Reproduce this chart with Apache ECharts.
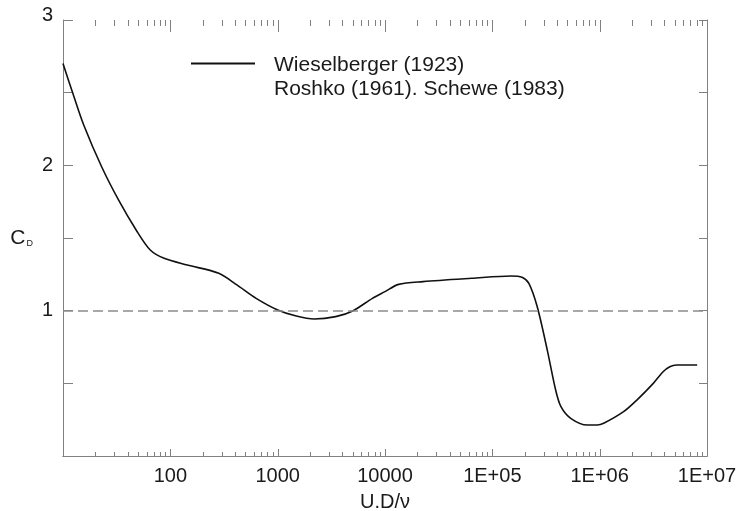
<!DOCTYPE html>
<html>
<head>
<meta charset="utf-8">
<script src="https://cdn.jsdelivr.net/npm/echarts@6/dist/echarts.min.js"></script>
<style>html,body{margin:0;padding:0;background:#fff;}#chart{width:741px;height:511px;}</style>
</head>
<body>
<div id="chart"></div>
<script>
// Reynolds number (U.D/nu) and drag coefficient C_D
const reynolds = [10, 12.5, 15.6, 22.9, 33, 48, 65, 87.5, 144, 283, 417, 630, 1000, 1490, 2190, 3470, 5000, 7630, 10000, 13400, 22600, 64300, 150000, 189000, 219000, 262000, 325000, 389000, 436000, 537000, 768000, 950000, 1090000, 1670000, 2220000, 3160000, 3900000, 4500000, 5200000, 8100000];
const cdValues = [2.70, 2.484, 2.278, 1.99, 1.76, 1.555, 1.417, 1.36, 1.314, 1.257, 1.177, 1.085, 1.005, 0.963, 0.943, 0.959, 0.998, 1.085, 1.131, 1.181, 1.20, 1.223, 1.239, 1.230, 1.188, 1.027, 0.729, 0.454, 0.339, 0.259, 0.213, 0.213, 0.225, 0.305, 0.385, 0.50, 0.58, 0.614, 0.626, 0.626];
const seriesName = 'Wieselberger (1923)';
const seriesName2 = 'Roshko (1961). Schewe (1983)';
const referenceCd = 1;
const xMin = 10, xMax = 1e7;
const yMin = 0, yMax = 3, yStep = 0.5;
const yLabels = [1, 2, 3];
const majorDecades = [10, 100, 1000, 10000, 100000, 1000000, 10000000];
const minorDecades = [10, 100, 1000, 10000, 100000, 1000000];
const minorMultipliers = [2, 3, 4, 5, 6, 7, 8, 9];

// tick marks: [value, isMajor]
const xTicks = [];
majorDecades.forEach(d => xTicks.push([d, 1]));
minorDecades.forEach(d => minorMultipliers.forEach(m => xTicks.push([d * m, 0])));

const axisColor = '#808080';
const textColor = '#1a1a1a';
const font = "'Liberation Sans', Arial, sans-serif";

const chart = echarts.init(document.getElementById('chart'), null, {renderer: 'canvas'});
const lineData = reynolds.map((r, i) => [r, cdValues[i]]);

function xLabel(v) {
  const e = Math.round(Math.log10(v));
  if (e < 2) return '';
  if (e >= 5) return '1E+0' + e;
  return String(Math.pow(10, e));
}

const option = {
  animation: false,
  backgroundColor: '#fff',
  textStyle: {fontFamily: font},
  grid: {left: 63, right: 34, top: 20, bottom: 55, outerBoundsMode: 'none', containLabel: false},
  legend: {
    data: [{name: seriesName, icon: 'rect'}],
    left: 186, top: 24,
    itemWidth: 64, itemHeight: 2,
    itemStyle: {color: '#111'},
    formatter: () => '{g| }\n{a|' + seriesName + '}\n{a|' + seriesName2 + '}',
    textStyle: {
      fontSize: 21, color: textColor, fontFamily: font, padding: [0, 0, 0, 14],
      rich: {
        g: {fontSize: 21, lineHeight: 28, fontFamily: font},
        a: {fontSize: 21, lineHeight: 24, color: textColor, fontFamily: font}
      }
    },
    selectedMode: false
  },
  xAxis: [{
    type: 'log', logBase: 10, min: xMin, max: xMax, position: 'bottom',
    name: 'U.D/\u03bd', nameLocation: 'middle', nameGap: 36,
    nameTextStyle: {fontSize: 20, color: textColor, fontFamily: font},
    axisLine: {show: true, lineStyle: {color: axisColor, width: 1}},
    axisTick: {show: false},
    axisLabel: {formatter: xLabel, fontSize: 20, color: textColor, margin: 10, fontFamily: font},
    splitLine: {show: false}
  }, {
    type: 'log', logBase: 10, min: xMin, max: xMax, position: 'top',
    axisLine: {show: true, lineStyle: {color: axisColor, width: 1}},
    axisTick: {show: false},
    axisLabel: {show: false},
    splitLine: {show: false}
  }],
  yAxis: [{
    type: 'value', min: yMin, max: yMax, interval: yStep, position: 'left',
    name: '{c|C}{d|D}', nameLocation: 'middle', nameRotate: 0, nameGap: 30,
    nameTextStyle: {rich: {
      c: {fontSize: 21, lineHeight: 21, color: textColor, fontFamily: font},
      d: {fontSize: 9, lineHeight: 21, verticalAlign: 'bottom', color: textColor, fontFamily: font, padding: [0, 0, 0, 1]}
    }},
    axisLine: {show: true, lineStyle: {color: axisColor, width: 1}},
    axisTick: {show: true, inside: true, length: 10, lineStyle: {color: axisColor}},
    axisLabel: {
      fontSize: 20, color: textColor, margin: 10, fontFamily: font,
      formatter: v => yLabels.indexOf(v) >= 0 ? (v === yMax ? '{t|' + v + '}' : String(v)) : '',
      rich: {t: {fontSize: 20, color: textColor, fontFamily: font, padding: [0, 0, 9, 0]}}
    },
    splitLine: {show: false}
  }, {
    type: 'value', min: yMin, max: yMax, interval: yStep, position: 'right',
    axisLine: {show: true, lineStyle: {color: axisColor, width: 1}},
    axisTick: {show: true, inside: true, length: 8, lineStyle: {color: axisColor}},
    axisLabel: {show: false},
    splitLine: {show: false}
  }],
  series: [{
    name: seriesName,
    type: 'line',
    xAxisIndex: 0, yAxisIndex: 0,
    data: lineData,
    smooth: 0.3,
    symbol: 'none', showSymbol: false,
    lineStyle: {color: '#111', width: 1.6},
    itemStyle: {color: '#111'},
    markLine: {
      silent: true, symbol: 'none', label: {show: false},
      lineStyle: {color: '#8c8c8c', type: [10, 5], width: 1.5},
      data: [{yAxis: referenceCd}]
    },
    z: 3
  }, {
    name: 'xTicks',
    type: 'custom',
    xAxisIndex: 0, yAxisIndex: 0,
    data: xTicks,
    silent: true,
    renderItem: function (params, api) {
      const major = api.value(1) === 1;
      const pb = api.coord([api.value(0), yMin]);
      const pt = api.coord([api.value(0), yMax]);
      const x = Math.round(pb[0]) + 0.5;
      const lb = major ? 7 : 4;
      const lt = major ? 12 : 6;
      return {type: 'group', children: [
        {type: 'line', shape: {x1: x, y1: pb[1], x2: x, y2: pb[1] - lb}, style: {stroke: axisColor, lineWidth: 1}},
        {type: 'line', shape: {x1: x, y1: pt[1], x2: x, y2: pt[1] + lt}, style: {stroke: axisColor, lineWidth: 1}}
      ]};
    },
    z: 1
  }]
};
chart.setOption(option);
</script>
</body>
</html>
